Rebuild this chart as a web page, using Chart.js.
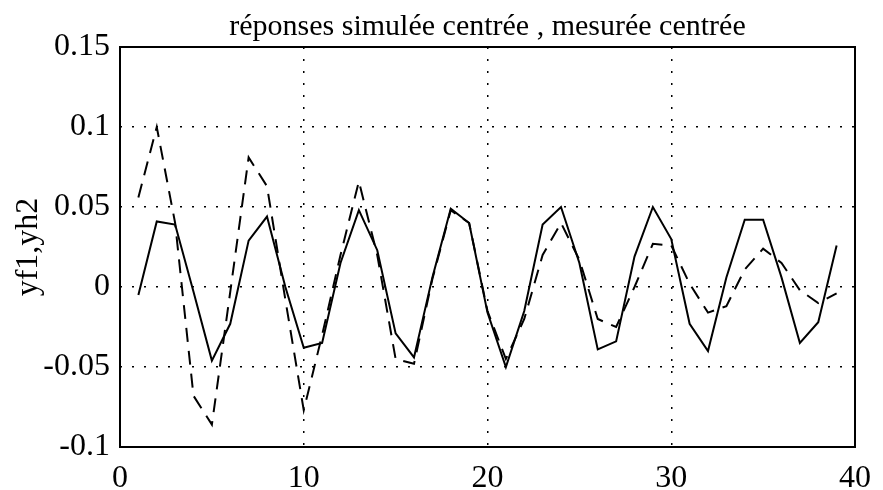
<!DOCTYPE html>
<html><head><meta charset="utf-8">
<script src="https://cdn.jsdelivr.net/npm/chart.js@4/dist/chart.umd.min.js"></script>
<style>html,body{margin:0;padding:0;background:#fff}</style>
</head><body>
<canvas id="c" width="883" height="490"></canvas>
<script>
const samples = [1,2,3,4,5,6,7,8,9,10,11,12,13,14,15,16,17,18,19,20,21,22,23,24,25,26,27,28,29,30,31,32,33,34,35,36,37,38,39];
const yf1 = [-0.005,0.041,0.039,-0.003,-0.046,-0.023,0.029,0.044,0.0,-0.038,-0.035,0.015,0.048,0.023,-0.029,-0.044,0.006,0.049,0.040,-0.016,-0.050,-0.015,0.039,0.050,0.015,-0.039,-0.034,0.019,0.050,0.030,-0.023,-0.040,0.006,0.042,0.042,0.006,-0.035,-0.022,0.026];
const yh2 = [0.056,0.100,0.040,-0.068,-0.086,-0.003,0.081,0.063,-0.008,-0.077,-0.030,0.020,0.066,0.020,-0.045,-0.048,0.005,0.048,0.040,-0.015,-0.045,-0.020,0.020,0.040,0.017,-0.020,-0.025,0.000,0.027,0.026,0.002,-0.016,-0.012,0.011,0.024,0.015,-0.002,-0.010,-0.004];
const xTickValues = [0,10,20,30,40];
const xTickLabels = ['0','10','20','30','40'];
const yTickValues = [-0.1,-0.05,0,0.05,0.1,0.15];
const yTickLabels = ['-0.1','-0.05','0','0.05','0.1','0.15'];
const titleText = 'réponses simulée centrée , mesurée centrée';
const yAxisTitle = 'yf1,yh2';

const serif = "'Liberation Serif','Times New Roman',serif";

const framePlugin = {
  id: 'frame',
  afterDatasetsDraw(chart) {
    const a = chart.chartArea, ctx = chart.ctx;
    ctx.save();
    ctx.strokeStyle = '#000';
    ctx.lineWidth = 2;
    ctx.setLineDash([]);
    ctx.strokeRect(a.left, a.top, a.right - a.left, a.bottom - a.top);
    ctx.restore();
  }
};

new Chart(document.getElementById('c'), {
  type: 'line',
  data: {
    datasets: [
      { label: 'yf1', data: samples.map((x,i)=>({x, y: yf1[i]})), borderColor: '#000', borderWidth: 2, pointRadius: 0, tension: 0, fill: false },
      { label: 'yh2', data: samples.map((x,i)=>({x, y: yh2[i]})), borderColor: '#000', borderWidth: 2, borderDash: [14, 9], pointRadius: 0, tension: 0, fill: false }
    ]
  },
  options: {
    responsive: false,
    animation: false,
    devicePixelRatio: 1,
    layout: { padding: { left: 0, right: 26, top: 0, bottom: 0 } },
    plugins: {
      legend: { display: false },
      tooltip: { enabled: false },
      title: { display: true, fullSize: false, text: titleText, color: '#000', font: { family: serif, size: 30, weight: 'normal' }, padding: { top: 9, bottom: 2 } }
    },
    scales: {
      x: {
        type: 'linear', min: 0, max: 40,
        afterBuildTicks: s => { s.ticks = xTickValues.map(v => ({ value: v })); },
        afterFit: s => { s.height = 43; },
        ticks: { color: '#000', font: { family: serif, size: 32 }, padding: 12, maxRotation: 0,
          callback: (v, i) => xTickLabels[i] },
        grid: { color: '#000', lineWidth: 1.5, drawTicks: false },
        border: { display: false, dash: [2, 10] }
      },
      y: {
        min: -0.1, max: 0.15,
        afterBuildTicks: s => { s.ticks = yTickValues.map(v => ({ value: v })); },
        afterFit: s => { s.width = 120; },
        ticks: { color: '#000', font: { family: serif, size: 32 }, padding: 10,
          callback: (v, i) => yTickLabels[i] },
        grid: { color: '#000', lineWidth: 1.5, drawTicks: false },
        border: { display: false, dash: [2, 10] },
        title: { display: true, text: yAxisTitle, color: '#000', font: { family: serif, size: 32 }, padding: { top: 9, bottom: 0 } }
      }
    }
  },
  plugins: [framePlugin]
});
</script>
</body></html>
